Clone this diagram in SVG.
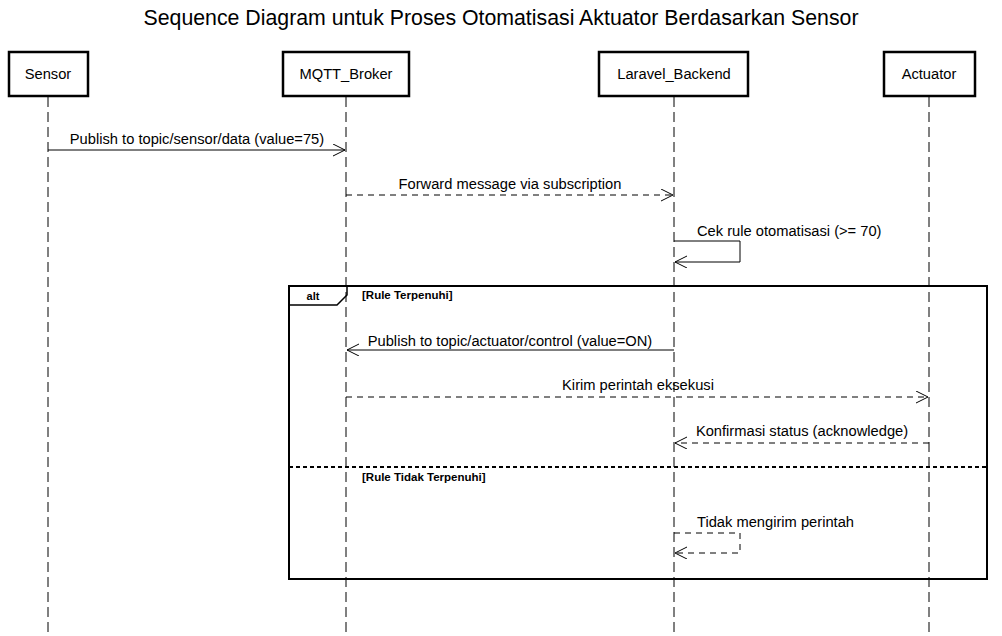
<svg xmlns="http://www.w3.org/2000/svg" width="1002" height="636" viewBox="0 0 1002 636">
<defs>
<style>
text{font-family:"Liberation Sans",Arial,sans-serif;fill:#000}
.box{fill:#fff;stroke:#000;stroke-width:2.5}
.life{stroke:#000;stroke-width:1;stroke-dasharray:10,5;fill:none}
.msg{stroke:#000;stroke-width:1;fill:none}
.ret{stroke:#000;stroke-width:1;fill:none;stroke-dasharray:6,5}
.lbl{font-size:14.7px;text-anchor:middle}
.name{font-size:14.7px;text-anchor:middle}
.guard{font-size:11.5px;font-weight:bold}
</style>
<marker id="arr" markerWidth="14" markerHeight="14" refX="12" refY="6" orient="auto" markerUnits="userSpaceOnUse">
<path d="M0,0 L12,6 L0,12" fill="none" stroke="#000" stroke-width="1"/>
</marker>
</defs>
<rect width="1002" height="636" fill="#fff"/>
<text x="501" y="25" font-size="21.3" text-anchor="middle">Sequence Diagram untuk Proses Otomatisasi Aktuator Berdasarkan Sensor</text>
<g id="lifelines">
<line class="life" x1="48" y1="97" x2="48" y2="632"/>
<line class="life" x1="346" y1="97" x2="346" y2="632"/>
<line class="life" x1="674" y1="97" x2="674" y2="632"/>
<line class="life" x1="929" y1="97" x2="929" y2="632"/>
</g>
<g id="Sensor"><rect class="box" x="9" y="52" width="79" height="44"/><text class="name" x="48" y="79">Sensor</text></g>
<g id="MQTT_Broker"><rect class="box" x="283" y="52" width="126" height="44"/><text class="name" x="346" y="79">MQTT_Broker</text></g>
<g id="Laravel_Backend"><rect class="box" x="599" y="52" width="149" height="44"/><text class="name" x="674" y="79">Laravel_Backend</text></g>
<g id="Actuator"><rect class="box" x="884" y="52" width="91" height="44"/><text class="name" x="929" y="79">Actuator</text></g>
<g id="alt-frame">
<rect x="289" y="286" width="698" height="293" fill="none" stroke="#000" stroke-width="2"/>
<path d="M289,305 L337,305 L347,295 L347,286" fill="none" stroke="#000" stroke-width="1.5"/>
<text x="313" y="300" font-size="11" font-weight="bold" text-anchor="middle">alt</text>
<text class="guard" x="362" y="299">[Rule Terpenuhi]</text>
<line x1="289" y1="467" x2="987" y2="467" stroke="#000" stroke-width="2" stroke-dasharray="4,3"/>
<text class="guard" x="362" y="481">[Rule Tidak Terpenuhi]</text>
</g>
<g id="connectors">
<line class="msg" x1="48" y1="150" x2="345" y2="150" marker-end="url(#arr)"/>
<text class="lbl" x="197" y="144">Publish to topic/sensor/data (value=75)</text>
<line class="ret" x1="346" y1="195" x2="673" y2="195" marker-end="url(#arr)"/>
<text class="lbl" x="510" y="189">Forward message via subscription</text>
<path class="msg" d="M674,241 L740,241 L740,262 L675,262" marker-end="url(#arr)"/>
<text x="697" y="236" font-size="14.7">Cek rule otomatisasi (&gt;= 70)</text>
<line class="msg" x1="674" y1="350" x2="347" y2="350" marker-end="url(#arr)"/>
<text class="lbl" x="510" y="346">Publish to topic/actuator/control (value=ON)</text>
<line class="ret" x1="346" y1="397" x2="928" y2="397" marker-end="url(#arr)"/>
<text class="lbl" x="638" y="390">Kirim perintah eksekusi</text>
<line class="ret" x1="929" y1="443" x2="675" y2="443" marker-end="url(#arr)"/>
<text class="lbl" x="802" y="436">Konfirmasi status (acknowledge)</text>
<path class="ret" d="M674,533 L740,533 L740,553 L675,553" marker-end="url(#arr)"/>
<text x="697" y="527" font-size="14.7">Tidak mengirim perintah</text>
</g>
</svg>
